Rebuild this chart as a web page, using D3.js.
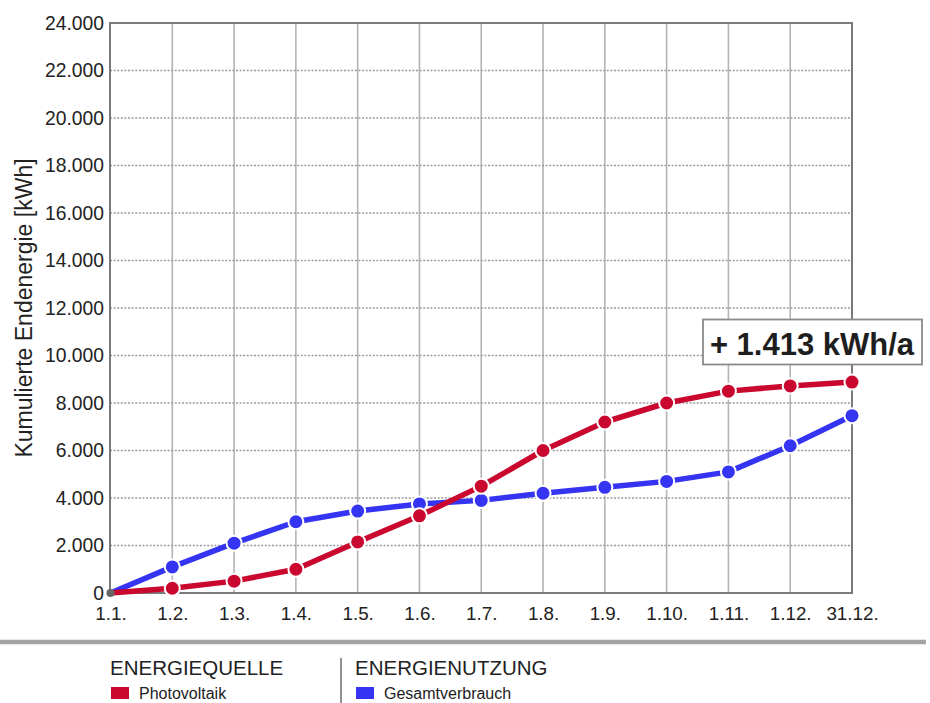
<!DOCTYPE html>
<html>
<head>
<meta charset="utf-8">
<script src="https://cdn.jsdelivr.net/npm/d3@7"></script>
<style>
  html, body { margin: 0; padding: 0; background: #fff; }
  svg { display: block; font-family: "Liberation Sans", Arial, Helvetica, sans-serif; }
</style>
</head>
<body>
<svg id="chart" width="930" height="703"></svg>
<script>
// ---- data ----
const categories = ["1.1.", "1.2.", "1.3.", "1.4.", "1.5.", "1.6.", "1.7.", "1.8.", "1.9.", "1.10.", "1.11.", "1.12.", "31.12."];
const photovoltaik = [0, 200, 500, 1000, 2150, 3250, 4500, 6000, 7200, 8000, 8500, 8720, 8880];
const gesamtverbrauch = [0, 1100, 2100, 3000, 3450, 3750, 3900, 4200, 4450, 4700, 5100, 6200, 7467];
const yTickValues = [0, 2000, 4000, 6000, 8000, 10000, 12000, 14000, 16000, 18000, 20000, 22000, 24000];
const yTitle = "Kumulierte Endenergie [kWh]";
const annotation = "+ 1.413 kWh/a";
const legendGroups = [
  { heading: "ENERGIEQUELLE", label: "Photovoltaik", color: "#c9072f" },
  { heading: "ENERGIENUTZUNG", label: "Gesamtverbrauch", color: "#3434f2" }
];

// ---- layout ----
const pLeft = 110, pRight = 852, pTop = 23, pBottom = 593;
const svg = d3.select("#chart");
const de = d3.formatLocale({ decimal: ",", thousands: ".", grouping: [3], currency: ["", " €"] });
const fmt = de.format(",");

const x = d3.scalePoint().domain(categories).range([pLeft + 0.5, pRight]);
const y = d3.scaleLinear().domain([0, 24000]).range([pBottom, pTop]);

// vertical grid (solid)
svg.append("g").selectAll("line")
  .data(categories.slice(1, -1))
  .join("line")
  .attr("x1", d => x(d)).attr("x2", d => x(d))
  .attr("y1", pTop).attr("y2", pBottom)
  .attr("stroke", "#b3b3b3").attr("stroke-width", 1.6);

// horizontal grid (dotted)
svg.append("g").selectAll("line")
  .data(yTickValues.filter(v => v > 0 && v < 24000))
  .join("line")
  .attr("x1", pLeft).attr("x2", pRight)
  .attr("y1", d => y(d)).attr("y2", d => y(d))
  .attr("stroke", "#9a9a9a").attr("stroke-width", 1.3)
  .attr("stroke-dasharray", "2,1.6");

// frame
svg.append("rect")
  .attr("x", pLeft).attr("y", pTop)
  .attr("width", pRight - pLeft).attr("height", pBottom - pTop)
  .attr("fill", "none").attr("stroke", "#7a7a7a").attr("stroke-width", 2);

// y axis
const yAxis = svg.append("g")
  .attr("transform", `translate(${pLeft},0)`)
  .call(d3.axisLeft(y).tickValues(yTickValues).tickFormat(fmt).tickSize(0).tickPadding(6));
yAxis.select(".domain").remove();
yAxis.selectAll("text")
  .attr("font-size", 19.3).attr("fill", "#222").attr("font-family", "Liberation Sans, Arial, sans-serif");

// x axis
const xAxis = svg.append("g")
  .attr("transform", `translate(0,${pBottom})`)
  .call(d3.axisBottom(x).tickSize(0).tickPadding(13.5));
xAxis.select(".domain").remove();
xAxis.selectAll("text")
  .attr("font-size", 18.8).attr("fill", "#222").attr("font-family", "Liberation Sans, Arial, sans-serif");

// y title
svg.append("text")
  .attr("transform", `translate(32,308) rotate(-90)`)
  .attr("text-anchor", "middle")
  .attr("font-size", 23).attr("fill", "#222")
  .text(yTitle);

// lines
const series = [
  { values: gesamtverbrauch, color: legendGroups[1].color },
  { values: photovoltaik, color: legendGroups[0].color }
];
const line = d3.line().x((d, i) => x(categories[i])).y(d => y(d));
series.forEach(s => {
  svg.append("path")
    .datum(s.values)
    .attr("d", line)
    .attr("fill", "none")
    .attr("stroke", s.color)
    .attr("stroke-width", 5.5)
    .attr("stroke-linejoin", "round");
  svg.append("g").selectAll("circle")
    .data(s.values.map((v, i) => ({ v, i })).filter(d => d.i > 0))
    .join("circle")
    .attr("cx", d => x(categories[d.i]))
    .attr("cy", d => y(d.v))
    .attr("r", 7.5)
    .attr("fill", s.color)
    .attr("stroke", "#fff").attr("stroke-width", 2);
});
// origin point
svg.append("circle")
  .attr("cx", x(categories[0])).attr("cy", y(0))
  .attr("r", 4).attr("fill", "#666");

// annotation box
const ag = svg.append("g");
ag.append("rect")
  .attr("x", 703).attr("y", 319.5).attr("width", 219).attr("height", 45)
  .attr("fill", "#fff").attr("stroke", "#8a8a8a").attr("stroke-width", 1.8);
ag.append("text")
  .attr("x", 812).attr("y", 355)
  .attr("text-anchor", "middle")
  .attr("font-size", 31).attr("font-weight", "bold").attr("fill", "#1e1e1e")
  .text(annotation);

// separator
svg.append("line")
  .attr("x1", 0).attr("x2", 926).attr("y1", 642).attr("y2", 642)
  .attr("stroke", "#a3a3a3").attr("stroke-width", 4.5);

// legend divider
svg.append("line")
  .attr("x1", 341).attr("x2", 341).attr("y1", 658).attr("y2", 703)
  .attr("stroke", "#555").attr("stroke-width", 1.3);

// legend
const legendX = [110, 355];
legendGroups.forEach((g, i) => {
  const lg = svg.append("g").attr("transform", `translate(${legendX[i]},0)`);
  lg.append("text").attr("x", 0).attr("y", 675)
    .attr("font-size", 20.5).attr("fill", "#222").text(g.heading);
  lg.append("rect").attr("x", 1).attr("y", 687).attr("width", 18).attr("height", 12)
    .attr("fill", g.color);
  lg.append("text").attr("x", 29).attr("y", 699)
    .attr("font-size", 16).attr("fill", "#222").text(g.label);
});
</script>
</body>
</html>
